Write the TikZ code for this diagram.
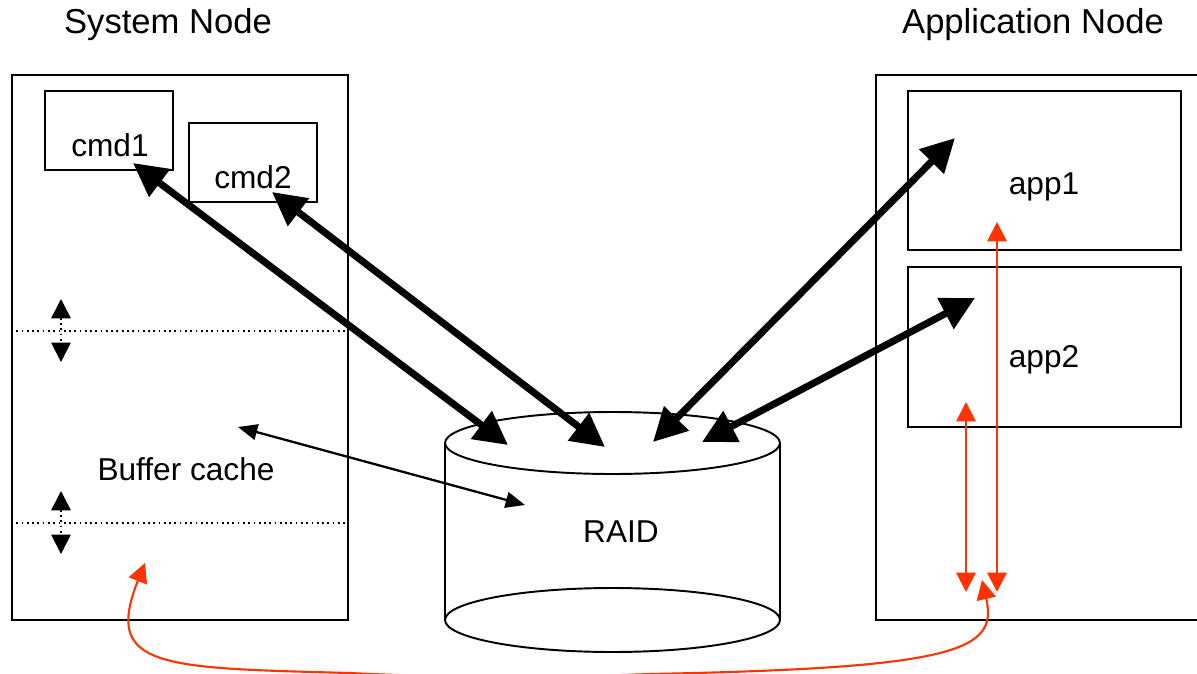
\documentclass[tikz,border=0pt]{standalone}
\usepackage{fontspec}
\setmainfont{Liberation Sans}
\usetikzlibrary{arrows.meta}
\definecolor{linkred}{HTML}{FF3300}
\tikzset{
  box/.style={draw, line width=1.1pt, inner sep=0pt},
  title/.style={font=\fontsize{19.7}{23}\selectfont},
  bigarrow/.style={{Triangle[length=19pt,width=19pt]}-{Triangle[length=19pt,width=19pt]}, line width=4pt},
  thinarrow/.style={{Triangle[length=11pt,width=9pt]}-{Triangle[length=11pt,width=9pt]}, line width=1.3pt},
  tickarrow/.style={{Triangle[length=11pt,width=11pt]}-{Triangle[length=11pt,width=11pt]}, dotted, line width=1pt},
  redarrow/.style={{Triangle[length=11pt,width=11pt]}-{Triangle[length=11pt,width=11pt]}, linkred, line width=1.2pt},
}
\begin{document}
\begin{tikzpicture}[x=0.02cm, y=-0.02cm, every node/.style={font=\fontsize{18}{22}\selectfont}]
  \useasboundingbox (0,0) rectangle (1197,673);
  \clip (0,0) rectangle (1197,673);
  % titles
  \node[title] (systitle) at (168,25) {System Node};
  \node[title] (apptitle) at (1033,25) {Application Node};
  % system node
  \node[box, minimum width=6.72cm, minimum height=10.9cm] (sysnode) at (180,347.5) {};
  \node[box, minimum width=2.56cm, minimum height=1.58cm] (cmd1box) at (109,130.5) {};
  \node (cmd1) at (110,145) {cmd1};
  \node[box, minimum width=2.56cm, minimum height=1.58cm] (cmd2box) at (253,162.5) {};
  \node (cmd2) at (253,177) {cmd2};
  \node (buffer) at (186,469) {Buffer cache};
  \coordinate (cut1) at (0,331);
  \coordinate (cut2) at (0,523);
  \draw[dotted, line width=1pt] (sysnode.west |- cut1) -- (sysnode.east |- cut1);
  \draw[dotted, line width=1pt] (sysnode.west |- cut2) -- (sysnode.east |- cut2);
  \coordinate (up1) at (61,299);
  \coordinate (dn1) at (61,362);
  \coordinate (up2) at (61,491);
  \coordinate (dn2) at (61,554);
  \draw[tickarrow] (up1) -- (dn1);
  \draw[tickarrow] (up2) -- (dn2);
  % application node
  \node[box, minimum width=6.52cm, minimum height=10.9cm] (appnode) at (1039,347.5) {};
  \node[box, minimum width=5.46cm, minimum height=3.18cm] (app1box) at (1044.5,170.5) {};
  \node (app1) at (1044,187) {app1};
  \node[box, minimum width=5.46cm, minimum height=3.2cm] (app2box) at (1044.5,347) {};
  \node (app2) at (1044,360) {app2};
  % RAID
  \draw[line width=1.1pt] (445,443) -- (445,620) (780,443) -- (780,620);
  \draw[line width=1.1pt] (612.5,620) ellipse [x radius=3.35cm, y radius=0.64cm];
  \draw[line width=1.1pt] (612.5,443) ellipse [x radius=3.35cm, y radius=0.62cm];
  \node (raid) at (621,532) {RAID};
  % arrow ends
  \coordinate (c1end) at (133,163);
  \coordinate (c2end) at (272,192);
  \coordinate (a1end) at (955,138);
  \coordinate (a2end) at (975,298);
  \coordinate (r1) at (508,445);
  \coordinate (r2) at (605,447);
  \coordinate (r3) at (653,442);
  \coordinate (r4) at (702,442);
  \coordinate (bufend) at (238,427);
  \coordinate (raidend) at (525,505);
  \draw[bigarrow] (c1end) -- (r1);
  \draw[bigarrow] (c2end) -- (r2);
  \draw[bigarrow] (a1end) -- (r3);
  \draw[bigarrow] (a2end) -- (r4);
  \draw[thinarrow] (bufend) -- (raidend);
  % red links
  \coordinate (s1top) at (966,402);
  \coordinate (s1bot) at (966,592);
  \coordinate (s2top) at (997,222);
  \coordinate (s2bot) at (997,592);
  \coordinate (sysend) at (145,563);
  \coordinate (append) at (982,580);
  \draw[redarrow] (sysend) .. controls (103,668) and (160,668) .. (350,673)
    .. controls (450,678) and (550,678) .. (650,674)
    .. controls (960,668) and (998,650) .. (append);
  \draw[redarrow] (s1top) -- (s1bot);
  \draw[redarrow] (s2top) -- (s2bot);
\end{tikzpicture}
\end{document}
